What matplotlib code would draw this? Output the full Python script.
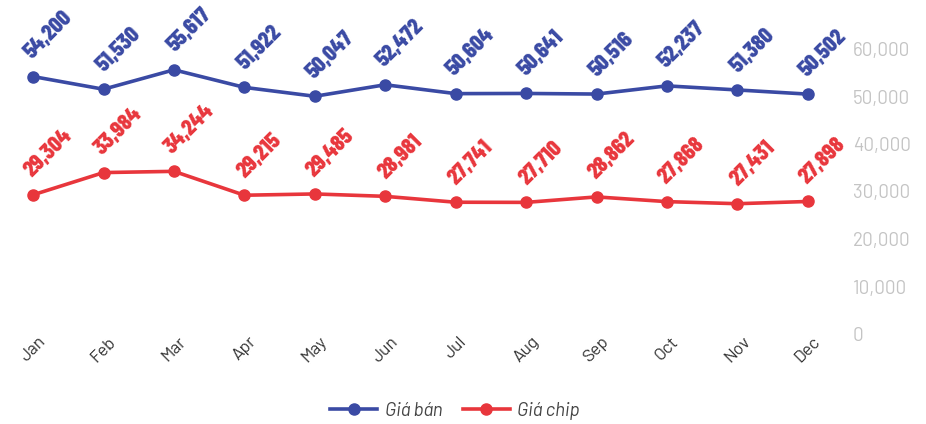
import matplotlib
matplotlib.use("Agg")
import matplotlib.pyplot as plt

months = ["Jan", "Feb", "Mar", "Apr", "May", "Jun", "Jul", "Aug", "Sep", "Oct", "Nov", "Dec"]
gia_ban = [54200, 51530, 55617, 51922, 50047, 52472, 50604, 50641, 50516, 52237, 51380, 50502]
gia_chip = [29304, 33984, 34244, 29215, 29485, 28981, 27741, 27710, 28862, 27868, 27431, 27898]
series_names = ["Giá bán", "Giá chip"]
yticks = [0, 10000, 20000, 30000, 40000, 50000, 60000]

BLUE = "#3a4aa4"
RED = "#e8363c"
COND = ["Barlow Condensed", "DejaVu Sans"]
BASE = ["Barlow", "DejaVu Sans"]

fig = plt.figure(figsize=(9.26, 4.24), dpi=100)
ax = fig.add_axes([0.0, (424 - 334) / 424, 843 / 926, (334 - 49) / 424])
x = list(range(len(months)))

ax.plot(x, gia_ban, color=BLUE, lw=2.6, marker="o", ms=8, label=series_names[0], clip_on=False)
ax.plot(x, gia_chip, color=RED, lw=2.6, marker="o", ms=8, label=series_names[1], clip_on=False)

for vals, c in [(gia_ban, BLUE), (gia_chip, RED)]:
    for xi, v in zip(x, vals):
        ax.annotate(f"{v:,}", (xi, v), xytext=(15, 14), textcoords="offset pixels",
                    ha="center", va="bottom", rotation=45, color=c,
                    fontsize=16.5, fontweight=800, family=COND, annotation_clip=False)

ax.set_xlim(-0.47, 11.5)
ax.set_ylim(0, 60000)
ax.set_xticks(x)
ax.set_xticklabels(months, rotation=45, ha="center", va="top", family=BASE,
                   fontsize=12.5, color="#333333")
ax.set_yticks(yticks)
ax.set_yticklabels([f"{t:,}" for t in yticks], family=BASE, fontsize=13.5, color="#c4c4c4")
ax.yaxis.tick_right()
ax.tick_params(axis="y", length=0, pad=7)
ax.tick_params(axis="x", length=0, pad=0)
for s in ax.spines.values():
    s.set_visible(False)

leg = fig.legend(loc="center", bbox_to_anchor=(455 / 926, 1 - 411 / 424), ncol=2, frameon=False,
                 prop={"family": BASE, "style": "italic", "size": 13.5}, handlelength=2.5,
                 columnspacing=1.1, handletextpad=0.4)
for t in leg.get_texts():
    t.set_color("#444444")

fig.savefig("out.png", dpi=100)
